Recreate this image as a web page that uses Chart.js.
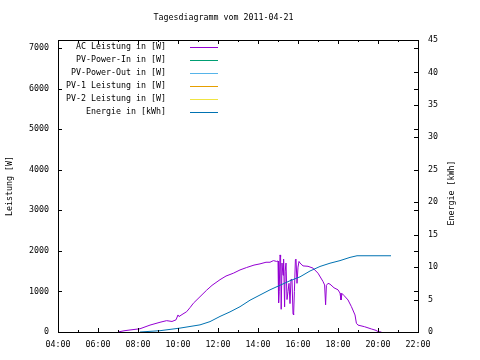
<!DOCTYPE html>
<html>
<head>
<meta charset="utf-8">
<script src="https://cdn.jsdelivr.net/npm/chart.js@4/dist/chart.umd.min.js"></script>
<style>
html,body{margin:0;padding:0;background:#fff;}
#wrap{width:480px;height:360px;}
</style>
</head>
<body>
<div id="wrap"><canvas id="c" width="480" height="360"></canvas></div>
<script>
// ---- data ----
const titleText = 'Tagesdiagramm vom 2011-04-21';
const seriesLabels = ['AC Leistung in [W]', 'PV-Power-In in [W]', 'PV-Power-Out in [W]', 'PV-1 Leistung in [W]', 'PV-2 Leistung in [W]', 'Energie in [kWh]'];
const seriesColors = ['#9400d3', '#009e73', '#56b4e9', '#e69f00', '#f0e442', '#0072b2'];
const xTickHours = [4, 6, 8, 10, 12, 14, 16, 18, 20, 22];
const yTicks = [0, 1000, 2000, 3000, 4000, 5000, 6000, 7000];
const y2Ticks = [0, 5, 10, 15, 20, 25, 30, 35, 40, 45];

const acTimes = [7.0, 7.3, 7.6, 8.1, 8.6, 9.1, 9.43, 9.7, 9.9, 10.0, 10.05, 10.2, 10.43, 10.6, 10.77, 11.1, 11.43, 11.7, 12.1, 12.4, 12.77, 13.1, 13.43, 13.8, 14.1, 14.4, 14.6, 14.77, 14.93,
  15.0, 15.03, 15.06, 15.1, 15.13, 15.16, 15.2, 15.25, 15.28, 15.33, 15.36, 15.4, 15.45, 15.5, 15.55, 15.6, 15.65, 15.7, 15.75, 15.78, 15.82, 15.87, 15.9, 15.95, 16.0, 16.05, 16.1,
  16.25, 16.5, 16.75, 17.0, 17.25, 17.33, 17.38, 17.42, 17.5, 17.6, 17.8, 18.0, 18.1, 18.15, 18.2, 18.3, 18.5, 18.67, 18.85, 18.92, 19.0, 19.33, 19.67, 19.9, 20.0, 20.17];
const acValues = [0, 30, 50, 80, 170, 240, 280, 260, 300, 420, 380, 430, 500, 600, 710, 870, 1030, 1150, 1290, 1380, 1450, 1530, 1590, 1650, 1680, 1720, 1720, 1760, 1740,
  1750, 720, 1000, 1900, 1850, 560, 1700, 1400, 1800, 620, 1500, 1700, 800, 1000, 1200, 700, 1300, 1290, 450, 420, 1000, 1780, 1800, 1200, 1600, 1740, 1700,
  1630, 1620, 1575, 1450, 1245, 1160, 670, 1150, 1200, 1180, 1090, 1040, 960, 790, 950, 900, 790, 626, 420, 215, 170, 130, 75, 40, 10, 0];

const enTimes = [8.1, 9.1, 10.1, 11.1, 11.6, 12.1, 12.6, 13.1, 13.6, 14.1, 14.6, 15.1, 15.6, 16.1, 16.6, 17.1, 17.6, 18.1, 18.6, 18.95, 20.65];
const enValues = [0, 0.2, 0.6, 1.1, 1.6, 2.4, 3.1, 3.9, 4.9, 5.7, 6.5, 7.2, 7.9, 8.5, 9.4, 10.1, 10.6, 11.0, 11.5, 11.75, 11.75];

// ---- chart ----
const FONT = '"DejaVu Sans Mono", "Liberation Mono", monospace';
const FS = 8.3;
const toXY = (xs, ys) => xs.map((x, i) => ({x: x, y: ys[i]}));

const datasets = seriesLabels.map((lab, i) => ({
  label: lab,
  data: [],
  borderColor: seriesColors[i],
  backgroundColor: seriesColors[i],
  borderWidth: 1,
  pointRadius: 0,
  tension: 0,
  fill: false,
  yAxisID: i === 5 ? 'y2' : 'y',
  order: i === 5 ? 0 : 1
}));
datasets[0].data = toXY(acTimes, acValues);
datasets[5].data = toXY(enTimes, enValues);

const decor = {
  id: 'decor',
  beforeDraw(chart) {
    const ctx = chart.ctx;
    ctx.save();
    ctx.fillStyle = '#fff';
    ctx.fillRect(0, 0, chart.width, chart.height);
    ctx.restore();
  },
  afterDraw(chart) {
    const {ctx, chartArea: a, scales} = chart;
    ctx.save();
    ctx.strokeStyle = '#000';
    ctx.lineWidth = 1;
    ctx.strokeRect(a.left + 0.5, a.top + 0.5, a.right - a.left, a.bottom - a.top);
    ctx.beginPath();
    // x ticks (major every 2h, minor every 1h) bottom + top mirror
    for (let h = 4; h <= 22; h++) {
      const px = Math.round(scales.x.getPixelForValue(h)) + 0.5;
      const len = (h % 2 === 0) ? 4 : 2;
      ctx.moveTo(px, a.bottom); ctx.lineTo(px, a.bottom - len);
      ctx.moveTo(px, a.top); ctx.lineTo(px, a.top + len);
    }
    // y ticks left + mirror right
    yTicks.forEach(v => {
      const py = Math.round(scales.y.getPixelForValue(v)) + 0.5;
      ctx.moveTo(a.left, py); ctx.lineTo(a.left + 4, py);
      ctx.moveTo(a.right, py); ctx.lineTo(a.right - 4, py);
    });
    // y2 ticks right
    y2Ticks.forEach(v => {
      const py = Math.round(scales.y2.getPixelForValue(v)) + 0.5;
      ctx.moveTo(a.right, py); ctx.lineTo(a.right - 4, py);
    });
    ctx.stroke();

    ctx.fillStyle = '#000';
    ctx.font = FS + 'px ' + FONT;
    ctx.textBaseline = 'middle';
    // title
    ctx.textAlign = 'center';
    ctx.fillText(titleText, 223.5, 18);
    // axis titles
    ctx.save();
    ctx.translate(10, 186);
    ctx.rotate(-Math.PI / 2);
    ctx.fillText('Leistung [W]', 0, 0);
    ctx.restore();
    ctx.save();
    ctx.translate(452, 193);
    ctx.rotate(-Math.PI / 2);
    ctx.fillText('Energie [kWh]', 0, 0);
    ctx.restore();
    // legend
    ctx.textAlign = 'right';
    chart.data.datasets.forEach((ds, i) => {
      const y = 47 + i * 13;
      ctx.fillStyle = '#000';
      ctx.fillText(ds.label, 166, y);
      ctx.strokeStyle = ds.borderColor;
      ctx.beginPath();
      ctx.moveTo(190, Math.round(y) + 0.5);
      ctx.lineTo(218, Math.round(y) + 0.5);
      ctx.stroke();
    });
    ctx.restore();
  }
};

new Chart(document.getElementById('c'), {
  type: 'line',
  data: {datasets: datasets},
  options: {
    responsive: false,
    animation: false,
    layout: {padding: {top: 40, left: 0, right: 0, bottom: 0}},
    plugins: {legend: {display: false}, title: {display: false}, tooltip: {enabled: false}},
    scales: {
      x: {
        type: 'linear', min: 4, max: 22,
        grid: {display: false, drawTicks: false},
        border: {display: false},
        afterFit(s) { s.height = 28; },
        afterBuildTicks(s) { s.ticks = xTickHours.map(v => ({value: v})); },
        ticks: {
          autoSkip: false, maxRotation: 0, padding: 8, color: '#000',
          font: {family: FONT, size: FS},
          callback: v => (v < 10 ? '0' : '') + v + ':00'
        }
      },
      y: {
        type: 'linear', position: 'left', min: 0, max: 7200,
        grid: {display: false, drawTicks: false},
        border: {display: false},
        afterFit(s) { s.width = 58; },
        afterBuildTicks(s) { s.ticks = yTicks.map(v => ({value: v})); },
        ticks: {padding: 9, color: '#000', font: {family: FONT, size: FS}, callback: v => String(v)}
      },
      y2: {
        type: 'linear', position: 'right', min: 0, max: 45,
        grid: {display: false, drawTicks: false},
        border: {display: false},
        afterFit(s) { s.width = 62; },
        afterBuildTicks(s) { s.ticks = y2Ticks.map(v => ({value: v})); },
        ticks: {padding: 10, color: '#000', font: {family: FONT, size: FS}, callback: v => String(v)}
      }
    }
  },
  plugins: [decor]
});
</script>
</body>
</html>
